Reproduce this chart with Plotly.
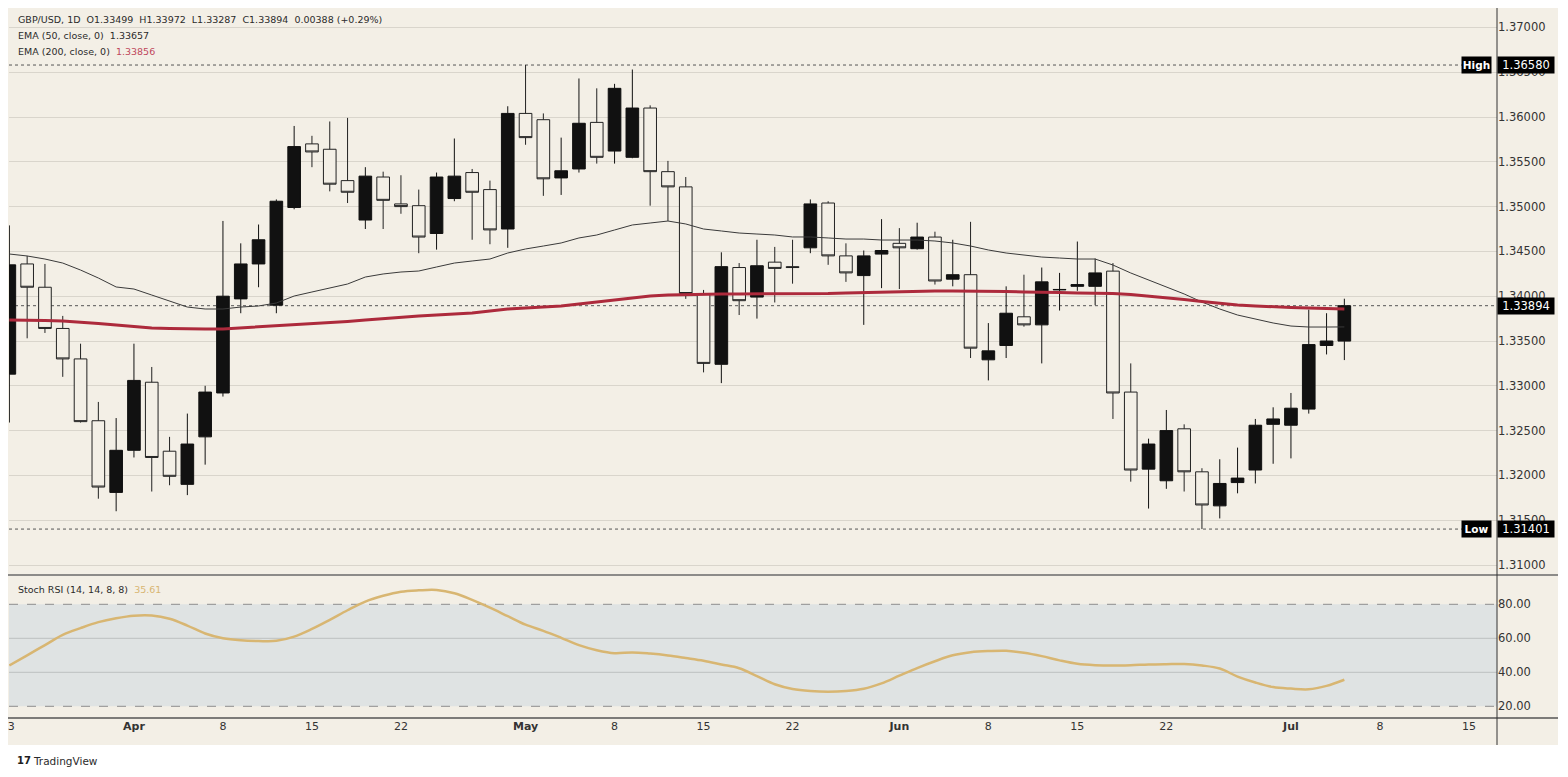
import plotly.graph_objects as go

# ---------------- data ----------------
bar_index = list(range(76))
open_ = [1.3313, 1.3436, 1.3410, 1.3364, 1.3330, 1.3261, 1.3181, 1.3228, 1.3304, 1.3227,
         1.3190, 1.3243, 1.3292, 1.3397, 1.3436, 1.3390, 1.3499, 1.3570, 1.3564, 1.3529,
         1.3485, 1.3533, 1.3503, 1.3501, 1.3470, 1.3509, 1.3538, 1.3519, 1.3475, 1.3604,
         1.3597, 1.3532, 1.3542, 1.3594, 1.3562, 1.3555, 1.3610, 1.3539, 1.3522, 1.3403,
         1.3324, 1.3432, 1.3399, 1.3438, 1.3433, 1.3454, 1.3504, 1.3445, 1.3423, 1.3447,
         1.3459, 1.3453, 1.3466, 1.3419, 1.3424, 1.3329, 1.3345, 1.3377, 1.3368, 1.3407,
         1.3411, 1.3411, 1.3428, 1.3293, 1.3207, 1.3194, 1.3252, 1.3204, 1.3166, 1.3192,
         1.3206, 1.3257, 1.3256, 1.3274, 1.3345, 1.33499]
high = [1.3479, 1.3445, 1.3436, 1.3378, 1.3347, 1.3282, 1.3264, 1.3347, 1.3321, 1.3243,
        1.3269, 1.3300, 1.3484, 1.3459, 1.3480, 1.3508, 1.3590, 1.3579, 1.3595, 1.3599,
        1.3544, 1.3539, 1.3535, 1.3519, 1.3538, 1.3576, 1.3542, 1.3529, 1.3612, 1.3658,
        1.3604, 1.3577, 1.3643, 1.3632, 1.3637, 1.3653, 1.3613, 1.3551, 1.3533, 1.3407,
        1.3449, 1.3437, 1.3463, 1.3455, 1.3463, 1.3508, 1.3506, 1.3459, 1.3451, 1.3486,
        1.3476, 1.3482, 1.3472, 1.3463, 1.3483, 1.3370, 1.3411, 1.3424, 1.3432, 1.3426,
        1.3461, 1.3442, 1.3437, 1.3325, 1.3241, 1.3273, 1.3257, 1.3208, 1.3218, 1.3231,
        1.3263, 1.3276, 1.3292, 1.3385, 1.3381, 1.33972]
low = [1.3259, 1.3353, 1.3359, 1.3310, 1.3259, 1.3174, 1.3160, 1.3220, 1.3182, 1.3189,
       1.3178, 1.3212, 1.3288, 1.3381, 1.3410, 1.3381, 1.3497, 1.3544, 1.3517, 1.3504,
       1.3475, 1.3475, 1.3492, 1.3448, 1.3452, 1.3506, 1.3463, 1.3458, 1.3454, 1.3569,
       1.3512, 1.3513, 1.3538, 1.3548, 1.3548, 1.3554, 1.3501, 1.3484, 1.3397, 1.3315,
       1.3303, 1.3379, 1.3375, 1.3393, 1.3414, 1.3448, 1.3435, 1.3416, 1.3368, 1.3409,
       1.3408, 1.3452, 1.3413, 1.3411, 1.3331, 1.3306, 1.3331, 1.3366, 1.3325, 1.3384,
       1.3406, 1.3390, 1.3263, 1.3193, 1.3163, 1.3185, 1.3182, 1.31401, 1.3152, 1.3180,
       1.3191, 1.3213, 1.3219, 1.3269, 1.3335, 1.33287]
close = [1.3435, 1.3410, 1.3364, 1.3330, 1.3260, 1.3187, 1.3228, 1.3306, 1.3220, 1.3199,
         1.3235, 1.3293, 1.3400, 1.3436, 1.3463, 1.3506, 1.3567, 1.3561, 1.3525, 1.3516,
         1.3534, 1.3507, 1.3500, 1.3466, 1.3533, 1.3534, 1.3516, 1.3474, 1.3604, 1.3577,
         1.3531, 1.3540, 1.3593, 1.3555, 1.3632, 1.3610, 1.3539, 1.3522, 1.3403, 1.3325,
         1.3433, 1.3395, 1.3434, 1.3431, 1.3432, 1.3503, 1.3445, 1.3426, 1.3445, 1.3451,
         1.3454, 1.3466, 1.3417, 1.3424, 1.3342, 1.3339, 1.3381, 1.3368, 1.3416, 1.34075,
         1.3413, 1.3426, 1.3292, 1.3206, 1.3235, 1.3250, 1.3204, 1.3167, 1.3191, 1.3197,
         1.3256, 1.3263, 1.3275, 1.3346, 1.3350, 1.33894]
ema50 = [1.34471, 1.34449, 1.34415, 1.34370, 1.34292, 1.34203, 1.34103, 1.34080, 1.34013, 1.33946,
         1.33879, 1.33857, 1.33857, 1.33879, 1.33891, 1.33924, 1.34002, 1.34047, 1.34092, 1.34136,
         1.34214, 1.34248, 1.34270, 1.34281, 1.34326, 1.34370, 1.34393, 1.34415, 1.34482, 1.34527,
         1.34560, 1.34594, 1.34650, 1.34683, 1.34739, 1.34795, 1.34817, 1.34839, 1.34806, 1.34750,
         1.34728, 1.34705, 1.34694, 1.34683, 1.34661, 1.34661, 1.34650, 1.34638, 1.34638, 1.34627,
         1.34627, 1.34627, 1.34616, 1.34594, 1.34560, 1.34516, 1.34482, 1.34460, 1.34437, 1.34426,
         1.34415, 1.34415, 1.34348, 1.34259, 1.34181, 1.34103, 1.34025, 1.33935, 1.33857, 1.33790,
         1.33746, 1.33701, 1.33667, 1.33656, 1.33656, 1.33657]
ema200 = [1.33734, 1.33734, 1.33729, 1.33723, 1.33712, 1.33695, 1.33679, 1.33662, 1.33645, 1.33639,
          1.33634, 1.33634, 1.33634, 1.33645, 1.33656, 1.33667, 1.33679, 1.33690, 1.33701, 1.33718,
          1.33734, 1.33751, 1.33768, 1.33779, 1.33790, 1.33801, 1.33812, 1.33835, 1.33857, 1.33868,
          1.33879, 1.33891, 1.33913, 1.33935, 1.33963, 1.33985, 1.34002, 1.34013, 1.34019, 1.34025,
          1.34025, 1.34025, 1.34025, 1.34025, 1.34025, 1.34030, 1.34030, 1.34036, 1.34041, 1.34047,
          1.34053, 1.34058, 1.34058, 1.34058, 1.34058, 1.34058, 1.34053, 1.34047, 1.34047, 1.34041,
          1.34036, 1.34036, 1.34030, 1.34019, 1.34002, 1.33985, 1.33963, 1.33941, 1.33918, 1.33902,
          1.33891, 1.33879, 1.33874, 1.33868, 1.33862, 1.33856]
stoch_rsi = [44.0, 50.0, 56.0, 62.0, 66.0, 69.5, 71.8, 73.3, 73.4, 71.5,
             67.5, 62.8, 60.0, 58.8, 58.4, 58.5, 61.0, 65.5, 70.8, 76.5,
             81.6, 85.0, 87.4, 88.2, 88.4, 86.5, 82.6, 78.0, 73.0, 68.0,
             64.4, 60.3, 56.0, 53.0, 51.2, 51.7, 51.0, 49.9, 48.4, 46.8,
             44.6, 42.4, 37.8, 33.0, 30.2, 29.0, 28.6, 29.0, 30.3, 33.5,
             38.0, 42.5, 46.5, 50.0, 51.8, 52.5, 52.7, 51.5, 49.5, 47.0,
             45.0, 44.2, 44.0, 44.2, 44.6, 44.8, 44.9, 44.0, 42.2, 37.5,
             34.0, 31.3, 30.4, 30.0, 32.0, 35.61]
x_tick_pos = [0.1, 7, 12, 17, 22, 29, 34, 39, 44, 50, 55, 60, 65, 72, 77, 82]
x_tick_text = ["3", "<b>Apr</b>", "8", "15", "22", "<b>May</b>", "8", "15", "22",
               "<b>Jun</b>", "8", "15", "22", "<b>Jul</b>", "8", "15"]
price_ticks = [1.310, 1.315, 1.320, 1.325, 1.330, 1.335, 1.340, 1.345,
               1.350, 1.355, 1.360, 1.365, 1.370]
stoch_ticks = [20, 40, 60, 80]
last_high = 1.36580
last_low = 1.31401
last_close = 1.33894

# ---------------- geometry / style ----------------
W, H = 1568, 777
L, R, T, B = 9, 1497, 8, 718
FONT = "DejaVu Sans"
BEIGE = "#f3efe6"
BAND = "#dfe3e3"
TXT = "#2b2b2b"


def fx(px):
    return (px - L) / (R - L)


def fy(py):
    return (B - py) / (B - T)


split = fy(575)

fig = go.Figure()

fig.add_trace(go.Candlestick(
    x=bar_index, open=open_, high=high, low=low, close=close,
    increasing=dict(line=dict(color="#111111", width=1), fillcolor="#111111"),
    decreasing=dict(line=dict(color="#222222", width=1), fillcolor=BEIGE),
    whiskerwidth=0, xaxis="x", yaxis="y", showlegend=False, hoverinfo="skip",
))
fig.add_trace(go.Scatter(x=bar_index, y=ema50, mode="lines",
                         line=dict(color="#3a3a3a", width=1), xaxis="x", yaxis="y",
                         showlegend=False, hoverinfo="skip"))
fig.add_trace(go.Scatter(x=bar_index, y=ema200, mode="lines",
                         line=dict(color="#ad2a3c", width=3), xaxis="x", yaxis="y",
                         showlegend=False, hoverinfo="skip"))
fig.add_trace(go.Scatter(x=bar_index, y=stoch_rsi, mode="lines", line_shape="spline",
                         line=dict(color="#d8b672", width=2.5), xaxis="x", yaxis="y2",
                         showlegend=False, hoverinfo="skip"))

shapes = []
# chart background
shapes.append(dict(type="rect", xref="paper", yref="paper", x0=fx(8), x1=fx(1558),
                   y0=fy(745), y1=fy(8), fillcolor=BEIGE, line=dict(width=0), layer="below"))
# stoch band
shapes.append(dict(type="rect", xref="paper", yref="y2", x0=0, x1=1, y0=20, y1=80,
                   fillcolor=BAND, line=dict(width=0), layer="below"))
for v in (40, 60):
    shapes.append(dict(type="line", xref="paper", yref="y2", x0=0, x1=1, y0=v, y1=v,
                       line=dict(color="#bcc0c0", width=1), layer="below"))
for v in (20, 80):
    shapes.append(dict(type="line", xref="paper", yref="y2", x0=0, x1=1, y0=v, y1=v,
                       line=dict(color="#8e8e8e", width=1, dash="dash"), layer="below"))
# dotted high / low / close lines
for v, x1 in ((last_high, fx(1462)), (last_low, fx(1462)), (last_close, 1)):
    shapes.append(dict(type="line", xref="paper", yref="y", x0=0, x1=x1, y0=v, y1=v,
                       line=dict(color="#555555", width=1, dash="dot"), layer="below"))
# pane separators and axis lines
shapes.append(dict(type="line", xref="paper", yref="paper", x0=fx(8), x1=fx(1558),
                   y0=split, y1=split, line=dict(color="#6a6a6a", width=1.5), layer="above"))
shapes.append(dict(type="line", xref="paper", yref="paper", x0=fx(8), x1=fx(1558),
                   y0=0, y1=0, line=dict(color="#555555", width=1.5), layer="above"))
shapes.append(dict(type="line", xref="paper", yref="paper", x0=1, x1=1,
                   y0=fy(745), y1=fy(8), line=dict(color="#333333", width=1), layer="above"))

ann = []
def legend_line(py, text, size=9.5):
    ann.append(dict(xref="paper", yref="paper", x=fx(16), y=fy(py), xanchor="left",
                    yanchor="middle", showarrow=False, text=text,
                    font=dict(family=FONT, size=size, color=TXT)))

legend_line(20, "GBP/USD, 1D&nbsp; O1.33499&nbsp; H1.33972&nbsp; L1.33287&nbsp; C1.33894&nbsp; 0.00388 (+0.29%)")
legend_line(36, "EMA (50, close, 0)&nbsp; 1.33657")
legend_line(51, "EMA (200, close, 0)&nbsp; <span style='color:#c0485c'>1.33856</span>")
legend_line(589, "Stoch RSI (14, 14, 8, 8)&nbsp; <span style='color:#d8b672'>35.61</span>")

def price_box(v, text):
    ann.append(dict(xref="paper", yref="y", x=1, y=v, xanchor="left", yanchor="middle",
                    showarrow=False, text=text, bgcolor="#000000", width=54, height=14,
                    borderpad=1, align="center",
                    font=dict(family=FONT, size=11.5, color="#ffffff")))

def tag_box(v, text):
    ann.append(dict(xref="paper", yref="y", x=fx(1492), y=v, xanchor="right",
                    yanchor="middle", showarrow=False, text="<b>%s</b>" % text,
                    bgcolor="#000000", width=27, height=14, borderpad=1, align="center",
                    font=dict(family=FONT, size=10.5, color="#ffffff")))

price_box(last_high, "1.36580")
tag_box(last_high, "High")
price_box(last_close, "1.33894")
price_box(last_low, "1.31401")
tag_box(last_low, "Low")

# TradingView mark
ann.append(dict(xref="paper", yref="paper", x=fx(15), y=fy(761), xanchor="left",
                yanchor="middle", showarrow=False, text="<b>17</b>",
                font=dict(family=FONT, size=10, color="#1e1e1e")))
ann.append(dict(xref="paper", yref="paper", x=fx(31), y=fy(761), xanchor="left",
                yanchor="middle", showarrow=False, text="TradingView",
                font=dict(family=FONT, size=10.5, color="#2b2b2b")))

fig.update_layout(
    width=W, height=H,
    margin=dict(l=L, r=W - R, t=T, b=H - B),
    paper_bgcolor="#ffffff", plot_bgcolor="rgba(0,0,0,0)",
    boxgap=0.29, boxgroupgap=0,
    showlegend=False,
    shapes=shapes, annotations=ann,
    font=dict(family=FONT, color="#333333"),
    xaxis=dict(type="linear", anchor="y2", domain=[0, 1],
               range=[(L - 9.35) / 17.8, (R - 9.35) / 17.8],
               tickmode="array", tickvals=x_tick_pos, ticktext=x_tick_text,
               showgrid=False, zeroline=False, showline=False, ticks="",
               tickfont=dict(family=FONT, size=11, color="#333333"),
               rangeslider=dict(visible=False), fixedrange=True),
    yaxis=dict(domain=[split, 1], anchor="x", side="right",
               range=[1.36 - (575 - 117) / 8960, 1.36 - (8 - 117) / 8960],
               tickmode="array", tickvals=price_ticks,
               ticktext=["%.5f" % v for v in price_ticks],
               showgrid=True, gridcolor="#d9d5cc", gridwidth=1,
               zeroline=False, showline=False, ticks="",
               tickfont=dict(family=FONT, size=11.5, color="#333333")),
    yaxis2=dict(domain=[0, split], anchor="x", side="right",
                range=[80 - (718 - 604.3) / 1.7, 80 - (575 - 604.3) / 1.7],
                tickmode="array", tickvals=stoch_ticks,
                ticktext=["%.2f" % v for v in stoch_ticks],
                showgrid=False, zeroline=False, showline=False, ticks="",
                tickfont=dict(family=FONT, size=11.5, color="#333333")),
)

fig.write_html("out.html")
